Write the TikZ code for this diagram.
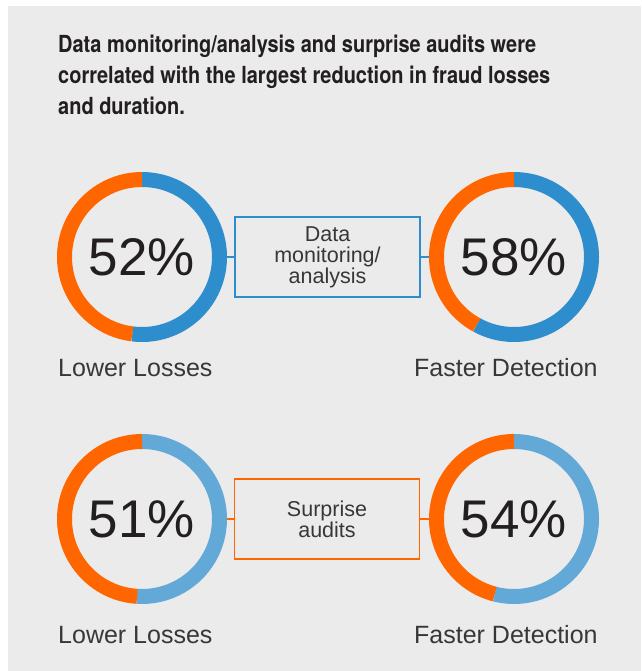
\documentclass[tikz,border=0pt]{standalone}
\usepackage{fontspec}
\setmainfont{Liberation Sans}
\newfontfamily\titlefont[FakeStretch=0.85]{TeX Gyre Heros}
\usepackage{tikz}
\usetikzlibrary{positioning,calc}
\definecolor{panelgray}{RGB}{235,235,235}
\definecolor{fraudorange}{RGB}{255,102,0}
\definecolor{dmblue}{RGB}{46,141,204}
\definecolor{sablue}{RGB}{99,169,215}
\definecolor{inkdark}{RGB}{35,31,32}
\definecolor{labelgray}{RGB}{55,55,55}

\tikzset{
  ringnode/.style={circle,minimum size=170pt,inner sep=0pt,outer sep=0pt,
    font=\fontsize{53}{53}\selectfont,text=inkdark},
  methodbox/.style={draw,line width=1.8pt,minimum width=185pt,minimum height=80pt,
    inner sep=0pt,outer sep=0pt,align=center,text=labelgray,
    font=\fontsize{21.5}{21}\selectfont},
  ringlabel/.style={anchor=base west,inner sep=0pt,text=labelgray,
    font=\fontsize{25}{25}\selectfont},
  link/.style={line width=1.6pt},
}

\begin{document}
\begin{tikzpicture}[x=1pt,y=1pt]
        \useasboundingbox (0,0) rectangle (641,-671);
        \fill[panelgray] (8,-6) rectangle (641,-671);
        % title (base = last line)
        \node[anchor=base west,inner sep=0pt,text=inkdark,align=left,
              font=\titlefont\bfseries\fontsize{23.5}{31}\selectfont] (title) at (58,-115)
          {Data monitoring/analysis and surprise audits were\\
           correlated with the largest reduction in fraud losses\\
           and duration.};
        % rings
        \def\rr{77.5}
        \foreach \name/\x/\y/\pct/\col in {r1/142/257/52/dmblue,r2/514/257/58/dmblue,
                                           r3/142/519/51/sablue,r4/514/519/54/sablue} {
          \node[ringnode] (\name) at (\x,-\y) {\pct\%};
          \draw[line width=15pt,\col] (\name.center) ++(90:\rr)
            arc[start angle=90,delta angle={-\pct*3.6},radius=\rr pt];
          \draw[line width=15pt,fraudorange] (\name.center) ++({90-\pct*3.6}:\rr)
            arc[start angle={90-\pct*3.6},end angle=-270,radius=\rr pt];
        }
        % labels
        \foreach \name/\x/\y/\txt in {l1/58/376/Lower Losses,l2/414/376/Faster Detection,
                                      l3/58/643/Lower Losses,l4/414/643/Faster Detection}
          \node[ringlabel] (\name) at (\x,-\y) {\txt};
        % methods
        \node[methodbox,draw=dmblue] (b1) at (327.5,-257) {Data\\monitoring/\\analysis};
        \node[methodbox,draw=fraudorange] (b2) at (327,-519) {Surprise\\audits};
        \draw[link,dmblue] (r1.east) -- (b1.west);
        \draw[link,dmblue] (b1.east) -- (r2.west);
        \draw[link,fraudorange] (r3.east) -- (b2.west);
        \draw[link,fraudorange] (b2.east) -- (r4.west);
      \end{tikzpicture}
\end{document}
